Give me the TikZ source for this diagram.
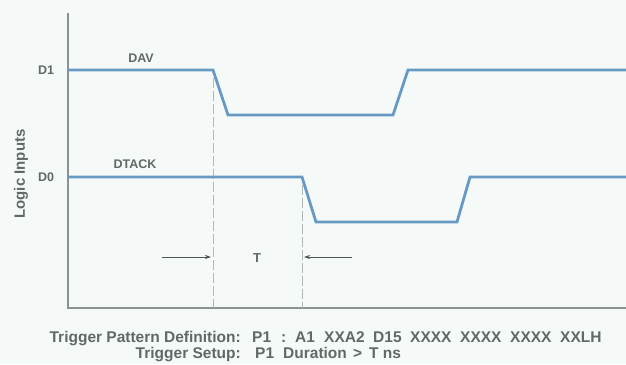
\documentclass[tikz,border=0pt]{standalone}
\usepackage{fontspec}
\setmainfont{Liberation Sans}
\usepackage{tikz}
\usetikzlibrary{arrows.meta,positioning}
\usepackage{xcolor}

\definecolor{paper}{RGB}{245,250,249}
\definecolor{wave}{RGB}{104,152,196}
\definecolor{axisgray}{RGB}{140,146,146}
\definecolor{textgray}{RGB}{98,104,104}
\definecolor{dashgray}{RGB}{176,184,186}

\begin{document}
\begin{tikzpicture}[
    x=1pt, y=-1pt,
    signal/.style={draw=wave, line width=2.8pt, line join=miter},
    axisline/.style={draw=axisgray, line width=1.4pt},
    marker/.style={draw=dashgray, line width=1pt, dash pattern=on 10pt off 3pt},
    timing/.style={-{Stealth[length=6pt,width=4pt]}, draw=textgray!80!black, line width=0.8pt},
    label/.style={text=textgray, font=\bfseries\fontsize{12.5}{14}\selectfont, inner sep=0pt},
    caption/.style={text=textgray, font=\bfseries\fontsize{15.5}{18}\selectfont, inner sep=0pt}
]

% Background
\fill[paper] (0,0) rectangle (626,364);
\useasboundingbox (0,0) rectangle (626,364);

% Axes
\coordinate (top) at (68,13);
\coordinate (origin) at (68,308);
\coordinate (right) at (626,308);
\draw[axisline] (top) -- (origin) -- (right);

% Trigger markers
\draw[marker] (213,78) -- (213,308);
\draw[marker] (302,185) -- (302,308);

% Waveforms
\draw[signal] (68,70) -- (213,70) -- (228,115) -- (393,115) -- (408,70) -- (626,70);
\draw[signal] (68,177) -- (302,177) -- (316,222) -- (457,222) -- (470,177) -- (626,177);

% Labels
\node[label, rotate=90, font=\bfseries\fontsize{15}{17}\selectfont] (logic) at (21,174) {Logic Inputs};
\node[label] (d1) at (46,70) {D1};
\node[label] (d0) at (46,177) {D0};
\node[label] (dav) at (141,58) {DAV};
\node[label] (dtack) at (135,164) {DTACK};
\node[label, font=\bfseries\fontsize{13}{15}\selectfont] (tlabel) at (257,258) {T};

% Duration T
\coordinate (tleft) at (162,257);
\coordinate (tstart) at (211,257);
\coordinate (tright) at (352,257);
\coordinate (tend) at (304,257);
\draw[timing] (tleft) -- (tstart);
\draw[timing] (tright) -- (tend);

% Trigger text
\node[caption, anchor=base east] (pattern) at (241,342) {Trigger Pattern Definition:};
\node[caption, anchor=base east] (setup) at (241,358) {Trigger Setup:};
\foreach \x/\t [count=\i] in {252/P1, 281/:, 295/A1, 324/XXA2, 373/D15, 410/XXXX, 460/XXXX, 510/XXXX, 560/XXLH}
    \node[caption, anchor=base west] (word\i) at (\x,342) {\t};
\foreach \x/\t [count=\i] in {255/P1, 283/Duration, 353/>, 369/T ns}
    \node[caption, anchor=base west] (setword\i) at (\x,358) {\t};

\end{tikzpicture}
\end{document}
